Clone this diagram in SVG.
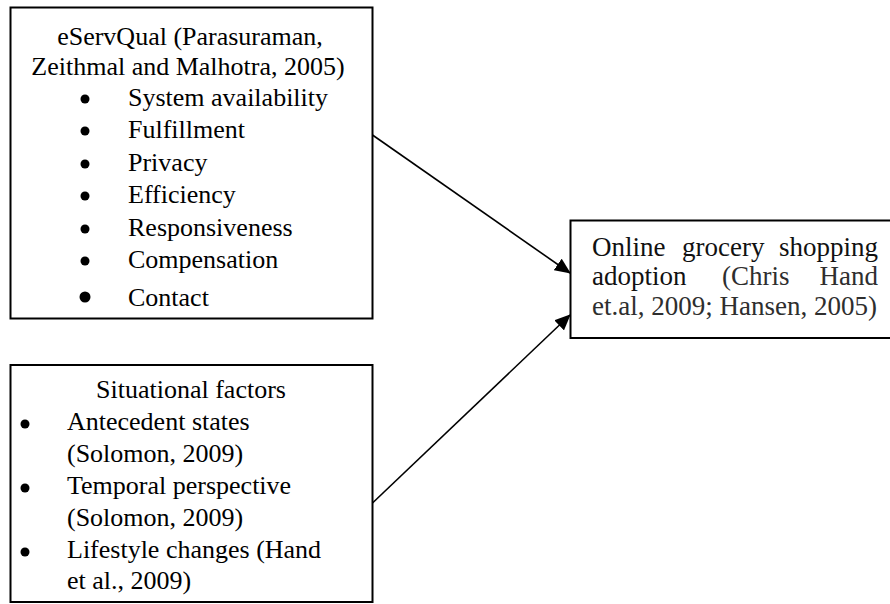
<svg xmlns="http://www.w3.org/2000/svg" width="890" height="604" viewBox="0 0 890 604">
<defs>
<style>
.box{fill:#fff;stroke:#000;stroke-width:2}
.t{font-family:"Liberation Serif","Times New Roman",serif;font-size:26px;fill:#000}
.r{font-family:"Liberation Serif","Times New Roman",serif;font-size:27px;fill:#111}
.g{fill:#2e2e2e}
.conn{stroke:#000;stroke-width:1.6;fill:none}
</style>
<marker id="ah" markerUnits="userSpaceOnUse" markerWidth="16" markerHeight="14" refX="15" refY="7" orient="auto">
<path d="M0,0 L16,7 L0,14 z" fill="#000"/>
</marker>
</defs>
<rect width="890" height="604" fill="#fff"/>
<g id="eservqual">
<rect class="box" x="10.5" y="7.5" width="362" height="311"/>
<text class="t" x="190" y="45" text-anchor="middle">eServQual (Parasuraman,</text>
<text class="t" x="188" y="75" text-anchor="middle">Zeithmal and Malhotra, 2005)</text>
<circle cx="85" cy="99" r="4.5"/><text class="t" x="128" y="106">System availability</text>
<circle cx="85" cy="131" r="4.5"/><text class="t" x="128" y="138">Fulfillment</text>
<circle cx="85" cy="164" r="4.5"/><text class="t" x="128" y="171">Privacy</text>
<circle cx="85" cy="196" r="4.5"/><text class="t" x="128" y="203">Efficiency</text>
<circle cx="85" cy="229" r="4.5"/><text class="t" x="128" y="236">Responsiveness</text>
<circle cx="85" cy="261" r="4.5"/><text class="t" x="128" y="268">Compensation</text>
<circle cx="85" cy="297" r="5.5"/><text class="t" x="128" y="306">Contact</text>
</g>
<g id="situational">
<rect class="box" x="10.5" y="365" width="362" height="237"/>
<text class="t" x="191" y="398" text-anchor="middle">Situational factors</text>
<circle cx="25" cy="424" r="4.5"/><text class="t" x="67" y="430">Antecedent states</text>
<text class="t" x="67" y="462">(Solomon, 2009)</text>
<circle cx="25" cy="488" r="4.5"/><text class="t" x="67" y="494">Temporal perspective</text>
<text class="t" x="67" y="526">(Solomon, 2009)</text>
<circle cx="25" cy="552" r="4.5"/><text class="t" x="67" y="558">Lifestyle changes (Hand</text>
<text class="t" x="67" y="589">et al., 2009)</text>
</g>
<g id="adoption">
<rect class="box" x="570.5" y="220.5" width="330" height="117.5"/>
<text class="r" x="592" y="256">Online</text>
<text class="r" x="682" y="256">grocery</text>
<text class="r" x="878" y="256" text-anchor="end">shopping</text>
<text class="r" x="592" y="285">adoption</text>
<text class="r g" x="722" y="285">(Chris</text>
<text class="r g" x="878" y="285" text-anchor="end">Hand</text>
<text class="r g" x="592" y="315">et.al, 2009; Hansen, 2005)</text>
</g>
<g id="connectors">
<line class="conn" x1="372.5" y1="135" x2="570" y2="273" marker-end="url(#ah)"/>
<line class="conn" x1="372.5" y1="503" x2="570" y2="315" marker-end="url(#ah)"/>
</g>
</svg>
